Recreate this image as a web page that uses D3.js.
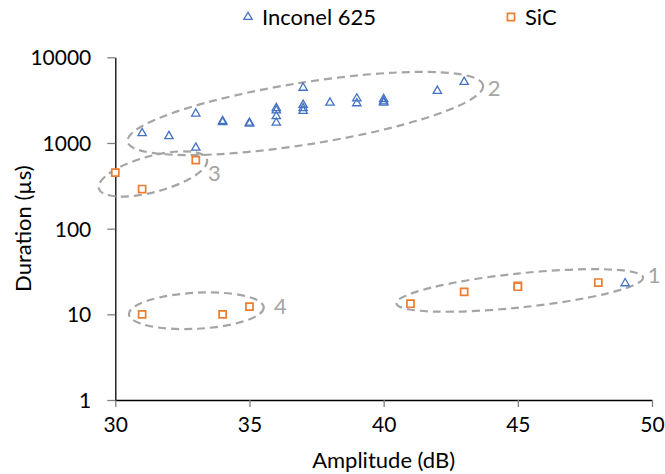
<!DOCTYPE html>
<html><head><meta charset="utf-8">
<script src="https://cdn.jsdelivr.net/npm/d3@7/dist/d3.min.js"></script>
<style>body{margin:0;background:#fff} text{font-family:Lato,'Open Sans',sans-serif}</style>
</head><body><svg id="c" width="665" height="474"></svg>
<script>
// ---- data ----
const seriesNames = ["Inconel 625", "SiC"];
const inconelAmp = [31, 32, 33, 33, 34, 34, 35, 35, 36, 36, 36, 36, 37, 37, 37, 37, 38, 39, 39, 40, 40, 40, 42, 43, 49];
const inconelDur = [1300, 1200, 2200, 880, 1800, 1750, 1720, 1680, 2550, 2400, 2050, 1720, 4400, 2780, 2550, 2360, 2950, 3300, 2900, 3250, 3050, 2950, 4050, 5150, 23];
const sicAmp = [30, 31, 33, 31, 34, 35, 41, 43, 45, 45, 48];
const sicDur = [450, 290, 630, 10, 10, 12.3, 13.3, 18.3, 21.5, 21, 23.5];
const xTicks = [30, 35, 40, 45, 50];
const yTicks = [1, 10, 100, 1000, 10000];
const clusterNames = ["1", "2", "3", "4"];
const clusterAmp = [45.07, 37.08, 31.4, 33.02];
const clusterDur = [19.0, 2210, 435, 11];
const clusterLabelAmp = [49.84, 43.88, 33.45, 35.91];
const clusterLabelDur = [28.8, 4385, 447, 12.5];
const xTitle = "Amplitude (dB)";
const yTitle = "Duration (µs)";

// ---- styles ----
const ellipseStyle = [
  {rx: 124, ry: 17, rot: -6},
  {rx: 180, ry: 31, rot: -9},
  {rx: 56, ry: 18, rot: -15},
  {rx: 67.5, ry: 18, rot: -3}
];
const blue = "#4472C4", orange = "#ED7D31", gray = "#A5A5A5";
const plot = {left: 115.3, right: 652, top: 57.3, bottom: 400};

const svg = d3.select("#c");
const x = d3.scaleLinear().domain([30, 50]).range([plot.left, plot.right]);
const y = d3.scaleLog().domain([1, 10000]).range([plot.bottom, plot.top]);

// axes
const xAxis = svg.append("g").attr("transform", `translate(0,${plot.bottom})`)
  .call(d3.axisBottom(x).tickValues(xTicks).tickSize(7).tickSizeOuter(0).tickPadding(10));
const yAxis = svg.append("g").attr("transform", `translate(${plot.left},0)`)
  .call(d3.axisLeft(y).tickValues(yTicks).tickFormat(d3.format("d")).tickSize(8).tickSizeOuter(0).tickPadding(16));
[xAxis, yAxis].forEach(g => {
  g.select(".domain").attr("stroke", "#000").attr("stroke-width", 1.3);
  g.selectAll(".tick line").attr("stroke", "#808080").attr("stroke-width", 1.3);
  g.selectAll(".tick text").attr("fill", "#000").style("font-size", "21px").style("font-family", "Lato");
});
yAxis.selectAll(".tick text").attr("dy", "0.35em");
xAxis.selectAll(".tick text").attr("dy", "0.71em");

// titles
svg.append("text").attr("x", (plot.left + plot.right) / 2).attr("y", 468)
  .attr("text-anchor", "middle").style("font-size", "22px").text(xTitle);
svg.append("text").attr("transform", `translate(31,${(plot.top + plot.bottom) / 2}) rotate(-90)`)
  .attr("text-anchor", "middle").style("font-size", "22px").text(yTitle);

// ellipses
const ann = svg.append("g");
clusterNames.forEach((n, i) => {
  const cx = x(clusterAmp[i]), cy = y(clusterDur[i]), s = ellipseStyle[i];
  ann.append("ellipse").attr("cx", cx).attr("cy", cy).attr("rx", s.rx).attr("ry", s.ry)
    .attr("transform", `rotate(${s.rot},${cx},${cy})`)
    .attr("fill", "none").attr("stroke", gray).attr("stroke-width", 2.2).attr("stroke-dasharray", "8,5");
  ann.append("text").attr("x", x(clusterLabelAmp[i])).attr("y", y(clusterLabelDur[i]))
    .attr("dy", "0.35em").attr("fill", gray).style("font-size", "22px").text(n);
});

// markers
const tri = d3.symbol().type(d3.symbolTriangle).size(30);
const sq = d3.symbol().type(d3.symbolSquare).size(50);
svg.append("g").selectAll("path").data(inconelAmp).join("path")
  .attr("d", tri).attr("transform", (d, i) => `translate(${x(d)},${y(inconelDur[i])})`)
  .attr("fill", "none").attr("stroke", blue).attr("stroke-width", 1.3);
svg.append("g").selectAll("path").data(sicAmp).join("path")
  .attr("d", sq).attr("transform", (d, i) => `translate(${x(d)},${y(sicDur[i])})`)
  .attr("fill", "#fff").attr("stroke", orange).attr("stroke-width", 1.7);

// legend
const leg = svg.append("g");
leg.append("path").attr("d", tri).attr("transform", "translate(248,17)")
  .attr("fill", "none").attr("stroke", blue).attr("stroke-width", 1.3);
leg.append("text").attr("x", 262).attr("y", 17).attr("dy", "0.35em").style("font-size", "22px").text(seriesNames[0]);
leg.append("path").attr("d", sq).attr("transform", "translate(511,17)")
  .attr("fill", "#fff").attr("stroke", orange).attr("stroke-width", 1.7);
leg.append("text").attr("x", 525).attr("y", 17).attr("dy", "0.35em").style("font-size", "22px").text(seriesNames[1]);
</script></body></html>
